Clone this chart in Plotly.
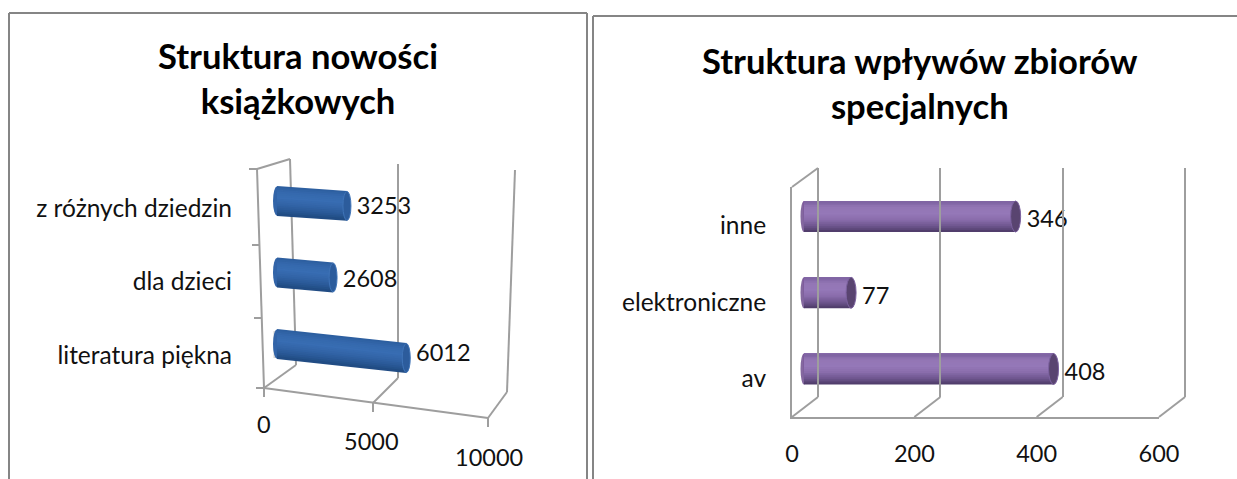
import plotly.graph_objects as go

# ---------- data ----------
TITLE_L = "Struktura nowości<br>książkowych"
CATS_L = ["literatura piękna", "dla dzieci", "z różnych dziedzin"]
VALS_L = [6012, 2608, 3253]
XTICKS_L = [0, 5000, 10000]

TITLE_R = "Struktura wpływów zbiorów<br>specjalnych"
CATS_R = ["av", "elektroniczne", "inne"]
VALS_R = [408, 77, 346]
XTICKS_R = [0, 200, 400, 600]

# ---------- canvas helpers ----------
W, H = 1237, 479
GRID = "#9e9e9e"
FRAME = "#858585"
FONT = "Lato"
INK = "#111111"
CAT_SIZE = 24.5
NUM_SIZE = 23.5
px = lambda x: x / W
py = lambda y: 1 - y / H
dom_y = lambda top, bottom: [py(bottom), py(top)]
PAD = 0.1


def plane(x0, span, vmax):
    """Domain and range of a depth plane; the range runs past the scale so caps and end gridlines stay drawn."""
    return dict(domain=[px(x0 - span * PAD), px(x0 + span * (1 + PAD))], range=[-vmax * PAD, vmax * (1 + PAD)])


def hexmix(a, b, t):
    ca = [int(a[i:i + 2], 16) for i in (1, 3, 5)]
    cb = [int(b[i:i + 2], 16) for i in (1, 3, 5)]
    return "#%02x%02x%02x" % tuple(round(p + (q - p) * t) for p, q in zip(ca, cb))


def shade(stops, t):
    n = len(stops) - 1
    i = min(int(t * n), n - 1)
    return hexmix(stops[i], stops[i + 1], t * n - i)


BLUE = ["#2c5d9e", "#3569ad", "#386db3", "#3365a8", "#2a5a98", "#1f4a80"]
PURPLE = ["#7c62a0", "#9376b5", "#9578b8", "#8a6dac", "#6f568f", "#4c3966"]
BANDS = 16

fig = go.Figure()
shapes, notes = [], []


def pline(x0, y0, x1, y1, color=GRID, width=2):
    shapes.append(dict(type="line", xref="paper", yref="paper", layer="below",
                       x0=px(x0), y0=py(y0), x1=px(x1), y1=py(y1),
                       line=dict(color=color, width=width)))


# ---------- frames ----------
pline(9, 13, 587, 13, FRAME, 2)
pline(9, 13, 9, 480, FRAME, 2)
pline(587, 13, 587, 480, FRAME, 2)
pline(593, 16, 1238, 16, FRAME, 2)
pline(593, 16, 593, 480, FRAME, 2)

# ---------- left chart: tilted wireframe ----------
for a in [(257, 169, 264, 388), (257, 169, 290, 159), (290, 159, 296, 365), (296, 365, 264, 388),
          (398, 164, 398, 378), (398, 378, 373, 403),
          (515, 170, 507, 392), (507, 392, 488, 418),
          (264, 388, 488, 418), (264, 388, 264, 397), (373, 403, 373, 412), (488, 418, 488, 427),
          (249, 169, 257, 169), (252, 245, 259, 245), (254, 318, 262, 318), (256, 388, 264, 388)]:
    pline(*a)
pline(276, 331, 276, 358, "#d4d4d4", 5)

# ---------- left chart: bars on their own scale ----------
L_X0, L_S = 277, 0.0215
L_Y0, L_ROW = 344, 71.5
L_THICK = 29
L_TILT = [0.00233, 0.0019, 0.0015]
axis_common = dict(showgrid=False, zeroline=False, showticklabels=False, ticks="", showline=False, fixedrange=True)
layout = dict(
    xaxis=dict(anchor="y", **plane(L_X0, L_S * 10000, 10000), **axis_common),
    yaxis=dict(domain=dom_y(208 - 0.5 * 73.5, 355 + 0.5 * 73.5), range=[-0.5, 2.5], anchor="free",
               position=px(232), side="left", tickmode="array", tickvals=[0, 1, 2], ticktext=CATS_L,
               showgrid=False, zeroline=False, showline=False, ticks="", fixedrange=True,
               tickfont=dict(family=FONT, size=CAT_SIZE, color=INK)),
    yaxis2=dict(domain=dom_y(L_Y0 - 2.5 * L_ROW, L_Y0 + 0.5 * L_ROW), range=[-0.5, 2.5], anchor="x", **axis_common),
)
for b in range(BANDS):
    t = (b + 0.5) / BANDS
    off = (0.5 - t) * L_THICK / L_ROW
    xs, ys = [], []
    for c, v in enumerate(VALS_L):
        xs += [0, v, None]
        ys += [c + off, c + off - L_TILT[c] * v / L_ROW, None]
    fig.add_trace(go.Scatter(x=xs, y=ys, xaxis="x", yaxis="y2", mode="lines", hoverinfo="skip", showlegend=False,
                             line=dict(color=shade(BLUE, t), width=L_THICK / BANDS + 1)))
for c, v in enumerate(VALS_L):
    cy = c - L_TILT[c] * v / L_ROW
    hw, hh = 4 / L_S, 0.5 * L_THICK / L_ROW
    shapes.append(dict(type="circle", xref="x", yref="y2", layer="above", x0=v - hw, x1=v + hw, y0=cy - hh, y1=cy + hh,
                       fillcolor="#2c5c9c", line=dict(color="#3f74b8", width=1)))
    shapes.append(dict(type="circle", xref="x", yref="y2", layer="below", x0=-hw, x1=hw, y0=c - hh, y1=c + hh,
                       fillcolor="#3264a8", line=dict(width=0)))
fig.add_trace(go.Scatter(x=VALS_L, y=[0, 1, 2], xaxis="x", yaxis="y", mode="markers+text", hoverinfo="skip",
                         showlegend=False, marker=dict(size=14, color="rgba(0,0,0,0)"), text=[str(v) for v in VALS_L],
                         textposition="middle right", textfont=dict(family=FONT, size=NUM_SIZE, color=INK)))
# the tilted value axis is foreshortened, so its tick labels sit at measured places
for v, lx, ly in zip(XTICKS_L, (264, 372, 489), (424, 441, 457)):
    notes.append(dict(xref="paper", yref="paper", x=px(lx), y=py(ly),
                      text=str(v), showarrow=False, font=dict(family=FONT, size=NUM_SIZE, color=INK),
                      xanchor="center", yanchor="middle"))

# ---------- right chart: three depth planes, one value range ----------
R_FRONT, R_BAR, R_BACK = 792, 804, 818
R_SPAN = 367
R_MAX = 600
R_THICK = 31
R_ROW = 76.25
R_BAR_C0 = 369
cat_font = dict(family=FONT, size=CAT_SIZE, color=INK)
num_font = dict(family=FONT, size=NUM_SIZE, color=INK)
layout.update(
    xaxis2=dict(domain=[px(R_FRONT), px(R_FRONT + R_SPAN)], range=[0, R_MAX], anchor="y3", tickmode="array",
                tickvals=XTICKS_R, ticktext=[str(v) for v in XTICKS_R], ticks="outside", ticklen=15,
                tickcolor="rgba(0,0,0,0)", showgrid=False, zeroline=False, showline=True, linecolor=GRID,
                linewidth=2, tickfont=num_font, fixedrange=True),
    yaxis3=dict(domain=dom_y(187, 417), range=[-0.5, 2.5], anchor="x2", tickmode="array", tickvals=[0, 1, 2],
                ticktext=CATS_R, ticks="outside", ticklen=19, tickcolor="rgba(0,0,0,0)", showgrid=False,
                zeroline=False, showline=True, linecolor=GRID, linewidth=2, tickfont=cat_font, fixedrange=True),
    xaxis3=dict(anchor="y4", **plane(R_BAR, R_SPAN, R_MAX), **axis_common),
    yaxis4=dict(domain=dom_y(R_BAR_C0 - 2.5 * R_ROW, R_BAR_C0 + 0.5 * R_ROW), range=[-0.5, 2.5], anchor="x3", **axis_common),
    yaxis6=dict(domain=dom_y(R_BAR_C0 + 5 - 2.5 * R_ROW, R_BAR_C0 + 5 + 0.5 * R_ROW), range=[-0.5, 2.5], anchor="x3", **axis_common),
    xaxis4=dict(anchor="y5", tickmode="array", tickvals=XTICKS_R, **plane(R_BACK, R_SPAN, R_MAX),
                showgrid=True, gridcolor=GRID, gridwidth=2, showticklabels=False, ticks="", zeroline=False,
                showline=False, fixedrange=True),
    yaxis5=dict(domain=dom_y(168, 397), range=[0, 1], anchor="x4", **axis_common),
)
# host traces so the front and back planes are drawn
fig.add_trace(go.Scatter(x=VALS_R, y=[0, 1, 2], xaxis="x2", yaxis="y3", mode="markers", hoverinfo="skip", showlegend=False,
                         marker=dict(size=1, color="rgba(0,0,0,0)")))
fig.add_trace(go.Scatter(x=VALS_R, y=[0.5, 0.5, 0.5], xaxis="x4", yaxis="y5", mode="markers", hoverinfo="skip", showlegend=False,
                         marker=dict(size=1, color="rgba(0,0,0,0)")))
# painter's order: lowest band first, each reaching the bar's top edge, so no seams show
for b in range(BANDS - 1, -1, -1):
    t = (b + 0.5) / BANDS
    fig.add_trace(go.Bar(x=VALS_R, y=[0, 1, 2], xaxis="x3", yaxis="y4", orientation="h", hoverinfo="skip", showlegend=False,
                         width=(b + 1) / BANDS * R_THICK / R_ROW, offset=(0.5 - (b + 1) / BANDS) * R_THICK / R_ROW,
                         marker=dict(color=shade(PURPLE, t), line=dict(width=0))))
s_r = R_SPAN / R_MAX
for c, v in enumerate(VALS_R):
    hh = 0.5 * R_THICK / R_ROW
    shapes.append(dict(type="circle", xref="x3", yref="y4", layer="above", x0=v - 5 / s_r, x1=v + 5 / s_r, y0=c - hh, y1=c + hh,
                       fillcolor="#594470", line=dict(color="#7c62a0", width=1)))
    shapes.append(dict(type="circle", xref="x3", yref="y4", layer="below", x0=-3.5 / s_r, x1=3.5 / s_r, y0=c - hh, y1=c + hh,
                       fillcolor="#84689f", line=dict(width=0)))
fig.add_trace(go.Scatter(x=VALS_R, y=[0, 1, 2], xaxis="x3", yaxis="y6", mode="markers+text", hoverinfo="skip", showlegend=False,
                         marker=dict(size=16, color="rgba(0,0,0,0)"), text=[str(v) for v in VALS_R],
                         textposition="middle right", textfont=num_font))
pline(R_FRONT, 187, R_BACK, 168)
for v in XTICKS_R:
    pline(R_FRONT + v * s_r, 417, R_BACK + v * s_r, 397)

# ---------- titles ----------
for tx, ty, ttl in [(298, 78, TITLE_L), (920, 83, TITLE_R)]:
    notes.append(dict(xref="paper", yref="paper", x=px(tx), y=py(ty), text="<b>" + ttl.replace("<br>", "</b><br><b>") + "</b>",
                      showarrow=False, align="center", font=dict(family=FONT, size=34.6, color="#000000"),
                      xanchor="center", yanchor="middle"))

fig.update_layout(width=W, height=H, margin=dict(l=0, r=0, t=0, b=0, pad=0, autoexpand=False), autosize=False, showlegend=False,
                  paper_bgcolor="#ffffff", plot_bgcolor="rgba(0,0,0,0)", barmode="overlay",
                  shapes=shapes, annotations=notes, **layout)
fig.write_html("out.html", config=dict(displayModeBar=False),
               post_script="document.body.style.margin='0';document.body.style.overflow='hidden';")
